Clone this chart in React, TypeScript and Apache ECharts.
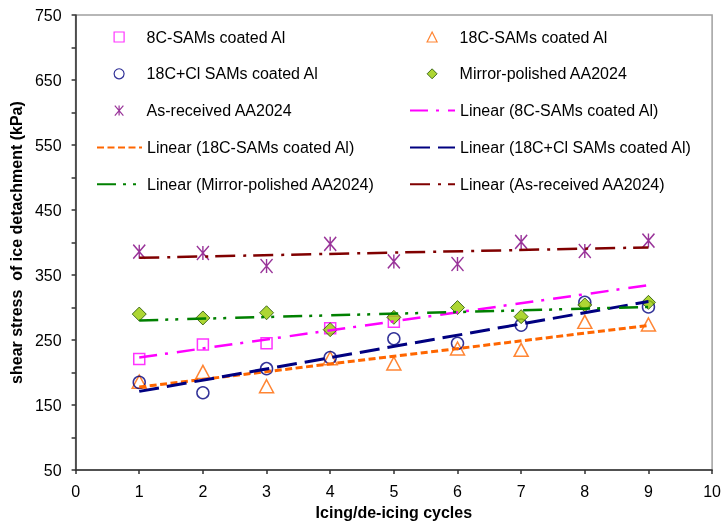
import React, { useEffect, useRef } from "react";
import * as echarts from "echarts";

// ---- data ----
const cycles = [1, 2, 3, 4, 5, 6, 7, 8, 9];
const cycles8C = [1, 2, 3, 4, 5];
const s8C = [221, 243, 245, 268, 278];
const s18C = [186, 201, 179, 222, 214, 237, 235, 278, 274];
const s18CCl = [185, 169, 206, 223, 252, 245, 273, 308, 301];
const sMirror = [290, 284, 292, 266, 285, 300, 286, 304, 308];
const sAsReceived = [386, 384, 364, 398, 371, 367, 401, 387, 403];
const trendRange = [1, 9];

const names = {
  a: "8C-SAMs coated Al",
  b: "18C-SAMs coated Al",
  c: "18C+Cl SAMs coated Al",
  d: "Mirror-polished AA2024",
  e: "As-received AA2024",
};
const linName = (n: string) => `Linear (${n})`;

const FONT = "'Liberation Sans', Arial, sans-serif";

function fit(xs: number[], ys: number[]) {
  const n = xs.length;
  const mx = xs.reduce((s, v) => s + v, 0) / n;
  const my = ys.reduce((s, v) => s + v, 0) / n;
  let num = 0;
  let den = 0;
  for (let i = 0; i < n; i++) {
    num += (xs[i] - mx) * (ys[i] - my);
    den += (xs[i] - mx) * (xs[i] - mx);
  }
  const b = num / den;
  const a = my - b * mx;
  return trendRange.map((x) => [x, a + b * x]);
}

const pairs = (xs: number[], ys: number[]) => ys.map((y, i) => [xs[i], y]);

const ASTERISK = "path://M0,0L12,14M12,0L0,14M6,0L6,14";

export default function App() {
  const ref = useRef<HTMLDivElement>(null);
  useEffect(() => {
    if (!ref.current) return;
    const chart = echarts.init(ref.current, undefined, { renderer: "svg" });

    const scatter = (name: string, data: number[][], symbol: string, size: number | number[], itemStyle: any) => ({
      name,
      type: "scatter",
      data,
      symbol,
      symbolSize: size,
      itemStyle,
      z: 2,
    });
    const trend = (name: string, data: number[][], color: string, width: number, dash: number[]) => ({
      name,
      type: "line",
      data,
      symbol: "none",
      showSymbol: false,
      lineStyle: { color, width, type: dash },
      itemStyle: { color },
      z: 3,
    });

    const series = [
      scatter(names.a, pairs(cycles8C, s8C), "rect", 11, { color: "transparent", borderColor: "#FF00FF", borderWidth: 1.5 }),
      scatter(names.b, pairs(cycles, s18C), "triangle", [14, 13], { color: "transparent", borderColor: "#FF6600", borderWidth: 1.5 }),
      scatter(names.c, pairs(cycles, s18CCl), "circle", 12, { color: "transparent", borderColor: "#000080", borderWidth: 1.5 }),
      scatter(names.d, pairs(cycles, sMirror), "diamond", 14, { color: "#99CC00", borderColor: "#1F4F00", borderWidth: 1 }),
      scatter(names.e, pairs(cycles, sAsReceived), ASTERISK, [12, 14], { color: "transparent", borderColor: "#800080", borderWidth: 1.5 }),
      trend(linName(names.a), fit(cycles8C, s8C), "#FF00FF", 2.5, [18, 8, 3, 9]),
      trend(linName(names.b), fit(cycles, s18C), "#FF6600", 3, [7, 3.5]),
      trend(linName(names.c), fit(cycles, s18CCl), "#000080", 3, [20, 8]),
      trend(linName(names.d), fit(cycles, sMirror), "#008000", 2.5, [19, 7, 3, 7, 3, 9]),
      trend(linName(names.e), fit(cycles, sAsReceived), "#800000", 2.5, [20, 8, 3, 7]),
    ];

    const mkS = (n: string, icon: string, color: string, w = 1.2) => ({
      name: n,
      icon,
      itemStyle: { borderWidth: w, borderColor: color },
    });
    const mkL = (n: string) => ({ name: n, itemStyle: { opacity: 0, borderWidth: 0 } });

    const ROW0 = 29;
    const ROW = 36.8;
    const textStyle = { fontFamily: FONT, fontSize: 16, color: "#000", lineHeight: 16 };
    const lineLegend = (left: number, row: number, data: any[]) => ({
      orient: "vertical",
      top: ROW0 + row * ROW,
      left,
      padding: 0,
      itemWidth: 45,
      itemHeight: 10,
      itemGap: ROW - 16,
      textStyle,
      selectedMode: false,
      data,
    });
    const symLegend = (center: number, textX: number, data: any[]) => ({
      orient: "vertical",
      top: ROW0,
      left: center - 5,
      padding: 0,
      itemWidth: 10,
      itemHeight: 10,
      itemGap: ROW - 16,
      textStyle: { ...textStyle, padding: [0, 0, 0, textX - (center - 5) - 15] },
      selectedMode: false,
      data,
    });

    chart.setOption({
      animation: false,
      textStyle: { fontFamily: FONT },
      grid: { left: 74, right: 10, top: 15, bottom: 47, show: true, borderColor: "#A0A0A0", borderWidth: 1.5 },
      legend: [
        symLegend(118.5, 146, [
          mkS(names.a, "rect", "#FF00FF"),
          mkS(names.c, "circle", "#000080"),
          mkS(names.e, ASTERISK, "#800080"),
        ]),
        lineLegend(96, 3, [mkL(linName(names.b)), mkL(linName(names.d))]),
        symLegend(431.5, 459, [mkS(names.b, "triangle", "#FF6600"), mkS(names.d, "diamond", "#1F4F00", 1)]),
        lineLegend(409, 2, [mkL(linName(names.a)), mkL(linName(names.c)), mkL(linName(names.e))]),
      ],
      xAxis: {
        type: "value",
        min: 0,
        max: 10,
        interval: 1,
        name: "Icing/de-icing cycles",
        nameLocation: "middle",
        nameGap: 29,
        nameTextStyle: { fontFamily: FONT, fontSize: 16, fontWeight: "bold", color: "#000" },
        axisLine: { show: true, lineStyle: { color: "#303030", width: 1.5 } },
        axisTick: { show: true, inside: false, length: 4, lineStyle: { color: "#303030", width: 1.5 } },
        axisLabel: { fontFamily: FONT, fontSize: 16, color: "#000", margin: 13 },
        splitLine: { show: false },
      },
      yAxis: {
        type: "value",
        min: 50,
        max: 750,
        interval: 50,
        name: "shear stress  of ice detachment (kPa)",
        nameLocation: "middle",
        nameGap: 46,
        nameRotate: 90,
        nameTextStyle: { fontFamily: FONT, fontSize: 16, fontWeight: "bold", color: "#000" },
        axisLine: { show: true, lineStyle: { color: "#303030", width: 1.5 } },
        axisTick: { show: true, inside: false, length: 4, lineStyle: { color: "#303030", width: 1.5 } },
        axisLabel: {
          fontFamily: FONT,
          fontSize: 16,
          color: "#000",
          margin: 14,
          formatter: (v: number) => ((v - 50) % 100 === 0 ? String(v) : ""),
        },
        splitLine: { show: false },
      },
      series,
    });
    return () => chart.dispose();
  }, []);
  return <div ref={ref} style={{ position: "fixed", left: 0, top: 0, width: 724, height: 525 }} />;
}
